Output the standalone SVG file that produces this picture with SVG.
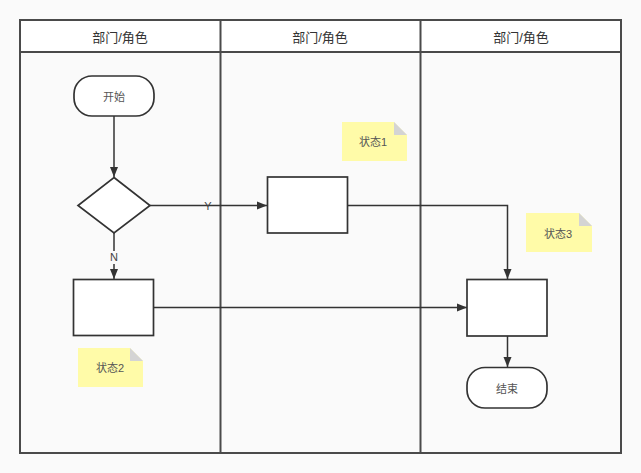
<svg xmlns="http://www.w3.org/2000/svg" width="641" height="473" viewBox="0 0 641 473">
<defs>
<style>
text{font-family:"Liberation Sans","Noto Sans CJK SC",sans-serif;fill:#333;text-anchor:middle;dominant-baseline:central}
.lane{fill:none;stroke:#4a4a4a;stroke-width:2}
.shape{fill:#fff;stroke:#333;stroke-width:1.7}
.note{fill:#fffba8}
.fold{fill:#d4d4d4}
.edge{fill:none;stroke:#333;stroke-width:1.5}
.h{font-size:13px}
.t{font-size:11px;fill:#555}
</style>
<marker id="arr" viewBox="0 0 10 10" refX="10" refY="5" markerWidth="10" markerHeight="10" markerUnits="userSpaceOnUse" orient="auto">
<path d="M0,1 L10,5 L0,9 Z" fill="#333"/>
</marker>
</defs>
<rect width="641" height="473" fill="#fafafa"/>
<g id="pool">
<rect x="20" y="20" width="601" height="32" fill="#fff"/>
<rect class="lane" x="20" y="20" width="601" height="433"/>
<line class="lane" x1="20" y1="52" x2="621" y2="52"/>
<line class="lane" x1="220.5" y1="20" x2="220.5" y2="453"/>
<line class="lane" x1="420.5" y1="20" x2="420.5" y2="453"/>
<text class="h" x="120" y="37">部门/角色</text>
<text class="h" x="320" y="37">部门/角色</text>
<text class="h" x="521" y="37">部门/角色</text>
</g>
<g id="connectors">
<line class="edge" x1="114" y1="116" x2="114" y2="177" marker-end="url(#arr)"/>
<line class="edge" x1="150" y1="205.5" x2="267" y2="205.5" marker-end="url(#arr)"/>
<text class="t" x="208" y="206" style="fill:#444">Y</text>
<line class="edge" x1="114" y1="233" x2="114" y2="279" marker-end="url(#arr)"/>
<rect x="108" y="251" width="12" height="13" fill="#fafafa"/>
<text class="t" x="114" y="257" style="fill:#444">N</text>
<polyline class="edge" points="347.5,205.5 507.5,205.5 507.5,279" marker-end="url(#arr)"/>
<line class="edge" x1="154" y1="307.5" x2="467" y2="307.5" marker-end="url(#arr)"/>
<line class="edge" x1="507.5" y1="336" x2="507.5" y2="367" marker-end="url(#arr)"/>
</g>
<g id="start">
<rect class="shape" x="74" y="76" width="80" height="40" rx="18"/>
<text class="t" x="114" y="97">开始</text>
</g>
<g id="decision">
<polygon class="shape" points="114,177.5 150,205.5 114,233 78,205.5"/>
</g>
<g id="task1">
<rect class="shape" x="267.5" y="177" width="80" height="56"/>
</g>
<g id="task2">
<rect class="shape" x="73.5" y="279.5" width="80" height="56"/>
</g>
<g id="task3">
<rect class="shape" x="467" y="279.5" width="80" height="56.5"/>
</g>
<g id="end">
<rect class="shape" x="467" y="367.5" width="80" height="40.5" rx="18"/>
<text class="t" x="507" y="389">结束</text>
</g>
<g id="note1">
<path class="note" d="M342,122 H394 L407,135 V161 H342 Z"/>
<path class="fold" d="M394,122 L407,135 H394 Z"/>
<text class="t" x="373" y="142">状态1</text>
</g>
<g id="note2">
<path class="note" d="M78,348 H130 L143,361 V387 H78 Z"/>
<path class="fold" d="M130,348 L143,361 H130 Z"/>
<text class="t" x="110" y="368">状态2</text>
</g>
<g id="note3">
<path class="note" d="M526,213 H579 L592,226 V252 H526 Z"/>
<path class="fold" d="M579,213 L592,226 H579 Z"/>
<text class="t" x="558" y="234">状态3</text>
</g>
</svg>
